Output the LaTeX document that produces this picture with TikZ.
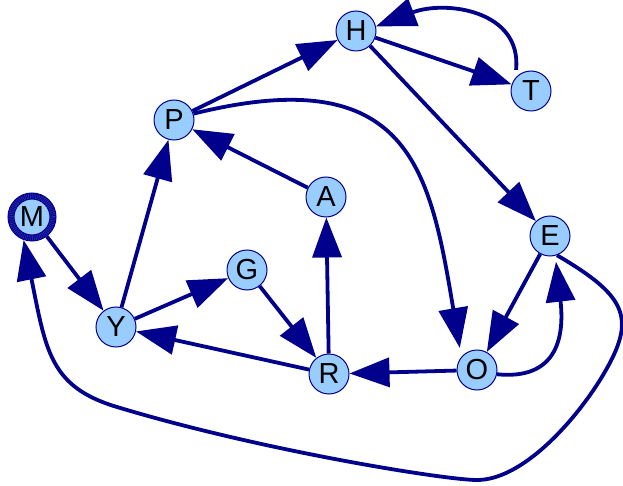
\documentclass[tikz,border=0pt]{standalone}
\usepackage{fontspec}
\setmainfont{Liberation Sans}
\usetikzlibrary{arrows.meta}
\definecolor{edgeblue}{RGB}{0,0,140}
\definecolor{nodeblue}{RGB}{153,204,255}
\definecolor{ringblue}{RGB}{45,45,175}

\begin{document}
\begin{tikzpicture}[x=1pt,y=-1pt,
    vertex/.style={circle,fill=nodeblue,draw=edgeblue,line width=1pt,
      minimum size=40pt,inner sep=0pt,font=\fontsize{29}{29}\selectfont},
    rootvertex/.style={vertex,line width=7pt,minimum size=42pt,
      postaction={draw=ringblue,line width=5pt,dash pattern=on 0.7pt off 1.1pt}},
    link/.style={draw=edgeblue,line width=3.8pt,-{Triangle[length=40pt,width=29pt]}}]
  \useasboundingbox (0,0) rectangle (623,486);

  \node[vertex] (H) at (356,31) {H};
  \node[vertex] (T) at (531,91) {T};
  \node[vertex] (P) at (174,120) {P};
  \node[vertex] (A) at (326,197) {A};
  \node[rootvertex] (M) at (32,217) {M};
  \node[vertex] (E) at (550,236) {E};
  \node[vertex] (G) at (247,270) {G};
  \node[vertex] (Y) at (116,327) {Y};
  \node[vertex] (R) at (329,374) {R};
  \node[vertex] (O) at (477,370) {O};

  \draw[link] (M) -- (Y);
  \draw[link] (Y) -- (P);
  \draw[link] (Y) -- (G);
  \draw[link] (G) -- (R);
  \draw[link] (R) -- (Y);
  \draw[link] (R) -- (A);
  \draw[link] (A) -- (P);
  \draw[link] (P) -- (H);
  \draw[link] (H) -- (T);
  \draw[link] (H) -- (E);
  \draw[link] (E) -- (O);
  \draw[link] (O) -- (R);

  % curved ones
  \draw[link,shorten <=8pt] (T.140) .. controls (522,10) and (445,0) .. (H.13);
  \draw[link,shorten >=9pt] (P.18) .. controls (410,60) and (430,170) .. (O.140);
  \draw[link,shorten >=6pt] (O.-12) .. controls (555,380) and (565,340) .. (E.-75);
  \draw[link] (E.-70) .. controls (630,298) and (637,320) .. (600,380)
    .. controls (573.5,422.5) and (522,480) .. (477,480)
    .. controls (445,480) and (261,450.5) .. (117,407)
    .. controls (50,387) and (46,351) .. (M.-110);
\end{tikzpicture}
\end{document}
